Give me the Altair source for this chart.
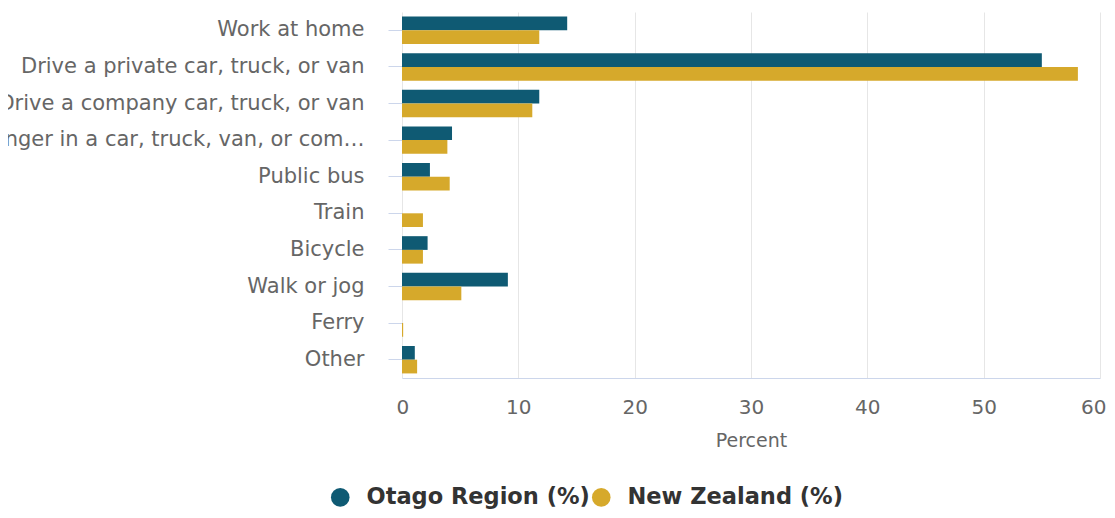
import altair as alt
import pandas as pd

categories = [
    "Work at home",
    "Drive a private car, truck, or van",
    "Drive a company car, truck, or van",
    "Passenger in a car, truck, van, or company bus",
    "Public bus",
    "Train",
    "Bicycle",
    "Walk or jog",
    "Ferry",
    "Other",
]
series_names = ["Otago Region (%)", "New Zealand (%)"]
otago = [14.2, 55.0, 11.8, 4.3, 2.4, 0.0, 2.2, 9.1, 0.0, 1.1]
nz = [11.8, 58.1, 11.2, 3.9, 4.1, 1.8, 1.8, 5.1, 0.1, 1.3]
x_ticks = [0, 10, 20, 30, 40, 50, 60]
colors = ["#0f5a73", "#d6a92b"]

rows = []
for i, c in enumerate(categories):
    rows.append({"Mode": c, "Series": series_names[0], "Percent": otago[i]})
    rows.append({"Mode": c, "Series": series_names[1], "Percent": nz[i]})
df = pd.DataFrame(rows)

font = "DejaVu Sans"

chart = alt.Chart(df).mark_bar().encode(
    x=alt.X(
        "Percent:Q",
        scale=alt.Scale(domain=[0, 60], nice=False),
        axis=alt.Axis(
            title="Percent",
            values=x_ticks,
            ticks=False,
            labelFlush=True,
            labelFlushOffset=6,
            labelPadding=19,
            labelFontSize=20,
            labelColor="#666666",
            labelFont=font,
            titleFont=font,
            titleFontSize=19,
            titleFontWeight="normal",
            titleColor="#666666",
            titlePadding=14,
            domainColor="#ccd6eb",
            gridColor="#e6e6e6",
            grid=True,
        ),
    ),
    y=alt.Y(
        "Mode:N",
        sort=categories,
        scale=alt.Scale(paddingInner=0.25, paddingOuter=0.125),
        axis=alt.Axis(
            title=None,
            tickSize=14,
            tickColor="#ccd6eb",
            labelPadding=24,
            labelFontSize=21,
            labelColor="#666666",
            labelFont=font,
            labelLimit=425,
            domain=False,
        ),
    ),
    yOffset=alt.YOffset("Series:N", sort=series_names),
    color=alt.Color(
        "Series:N",
        sort=series_names,
        scale=alt.Scale(domain=series_names, range=colors),
        legend=alt.Legend(
            title=None,
            orient="none",
            legendX=-73,
            legendY=474,
            direction="horizontal",
            symbolType="circle",
            symbolSize=346,
            symbolStrokeWidth=0,
            labelFontSize=22.5,
            labelFont=font,
            labelFontWeight="bold",
            labelColor="#333333",
            labelOffset=15,
            labelLimit=600,
            columnPadding=-7,
        ),
    ),
).properties(
    width=698,
    height=366,
    autosize=alt.AutoSizeParams(type="none"),
    padding={"left": 394, "top": 4, "right": 7, "bottom": 132},
).configure_view(stroke=None)

chart.save("out.html", embed_options={"renderer": "svg", "actions": False})
